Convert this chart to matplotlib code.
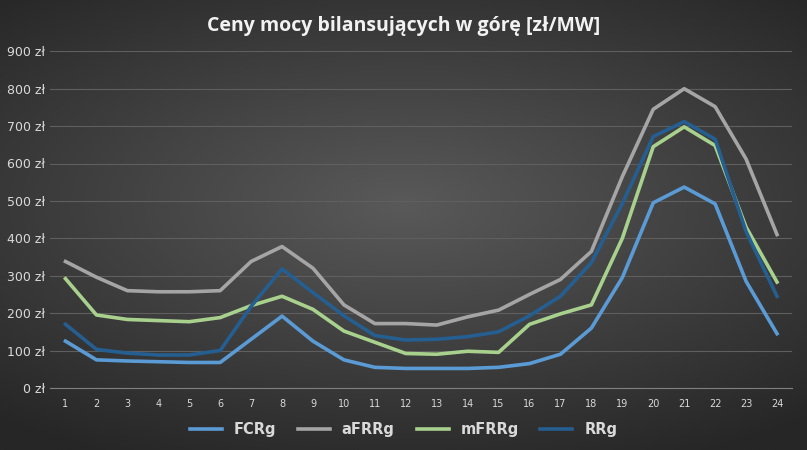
import numpy as np
import matplotlib
matplotlib.use("Agg")
import matplotlib.pyplot as plt

hours = list(range(1, 25))
fcrg = [125, 75, 72, 70, 68, 68, 130, 192, 125, 75, 55, 52, 52, 52, 55, 65, 90, 160, 295, 495, 537, 492, 285, 145]
afrrg = [338, 296, 260, 257, 257, 260, 338, 378, 320, 222, 172, 172, 168, 190, 208, 250, 290, 365, 565, 745, 800, 752, 612, 410]
mfrrg = [292, 195, 183, 180, 177, 188, 220, 245, 210, 152, 122, 92, 90, 98, 95, 170, 198, 222, 400, 645, 698, 648, 430, 283]
rrg = [170, 103, 93, 88, 88, 100, 218, 318, 255, 193, 140, 128, 130, 137, 150, 193, 245, 335, 493, 672, 712, 665, 418, 245]
series = [("FCRg", fcrg, "#5B9BD5"), ("aFRRg", afrrg, "#A5A5A5"),
          ("mFRRg", mfrrg, "#A9D18E"), ("RRg", rrg, "#255E91")]

fig = plt.figure(figsize=(8.07, 4.5), dpi=100)
bg = fig.add_axes([0, 0, 1, 1], zorder=-1)
yy, xx = np.mgrid[-1:1:200j, -1:1:360j]
r = np.sqrt((xx * 0.9) ** 2 + (yy * 1.1 + 0.1) ** 2)
bg.imshow(np.clip(r, 0, 1.4), cmap=matplotlib.colors.LinearSegmentedColormap.from_list("g", ["#595959", "#262626"]),
          aspect="auto", extent=[0, 1, 0, 1])
bg.axis("off")

ax = fig.add_axes([0.062, 0.138, 0.92, 0.748])
ax.set_facecolor("none")
for name, vals, c in series:
    ax.plot(hours, vals, color=c, lw=2.6, label=name, solid_joinstyle="round")
ax.set_xlim(0.5, 24.5)
ax.set_ylim(0, 900)
ax.set_yticks(range(0, 901, 100))
ax.set_yticklabels([f"{v} zł" for v in range(0, 901, 100)])
ax.set_xticks(hours)
ax.grid(axis="y", color="#5f5f5f", lw=0.8)
ax.set_axisbelow(True)
for s in ["top", "right", "left"]:
    ax.spines[s].set_visible(False)
ax.spines["bottom"].set_color("#7f7f7f")
ax.tick_params(axis="y", length=0, colors="#d9d9d9", labelsize=9)
ax.tick_params(axis="x", length=0, colors="#d9d9d9", labelsize=7, pad=8)
fig.suptitle("Ceny mocy bilansujących w górę [zł/MW]", y=0.965, color="#f2f2f2",
             fontsize=14, fontweight="bold", family="Open Sans")
leg = fig.legend(loc="lower center", ncol=4, frameon=False, bbox_to_anchor=(0.5, 0.0),
                 prop={"size": 10.5, "weight": "bold"}, handlelength=2.2, columnspacing=1.5)
for t in leg.get_texts():
    t.set_color("#d9d9d9")
fig.savefig("out.png", dpi=100)
